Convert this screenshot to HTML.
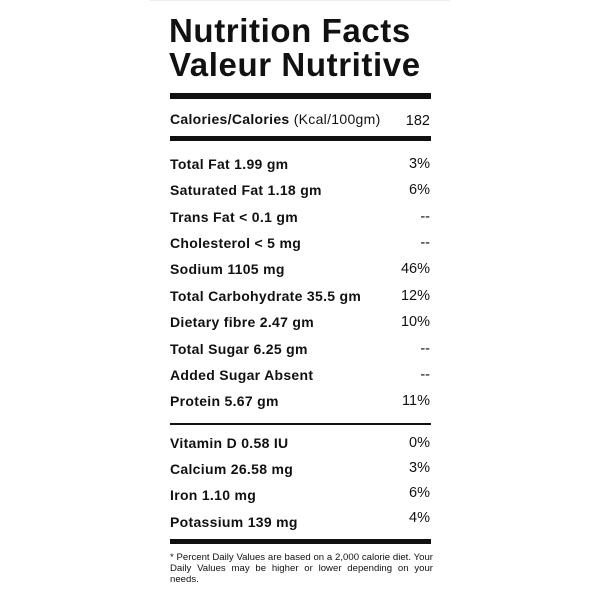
<!DOCTYPE html>
<html><head><style>
body{margin:0;width:600px;height:600px;background:#fff;position:relative;font-family:"Liberation Sans",sans-serif;color:#111;overflow:hidden}
.card{position:absolute;left:150px;top:0;width:300px;height:600px;border-top:1px solid #eee}
.t{position:absolute;left:169px;font-weight:bold;font-size:33px;line-height:34px;letter-spacing:0.6px}
.bar{position:absolute;left:170px;width:261px;background:#111}
.r{position:absolute;left:170px;width:260px;font-size:14px;font-weight:bold;line-height:16px;letter-spacing:0.3px}
.r span{position:absolute;right:0;top:0;font-weight:normal;font-size:14.5px;letter-spacing:0}
.f{position:absolute;left:170px;width:263px;font-size:9.6px;line-height:11px;text-align:justify;text-align-last:left}
.f1{display:block;text-align:justify;text-align-last:justify}
</style></head><body>
<div class="card"></div>
<div class="t" style="top:14px">Nutrition Facts</div>
<div class="t" style="top:48px">Valeur Nutritive</div>
<div class="bar" style="top:93px;height:6px"></div>
<div class="r" style="top:111px">Calories/Calories <b style="font-weight:normal">(Kcal/100gm)</b><span style="top:2px">182</span></div>
<div class="bar" style="top:136px;height:5px"></div>
<div class="r" style="top:156px">Total Fat 1.99 gm<span>3%</span></div>
<div class="r" style="top:182px">Saturated Fat 1.18 gm<span>6%</span></div>
<div class="r" style="top:209px">Trans Fat &lt; 0.1 gm<span>--</span></div>
<div class="r" style="top:235px">Cholesterol &lt; 5 mg<span>--</span></div>
<div class="r" style="top:261px">Sodium 1105 mg<span>46%</span></div>
<div class="r" style="top:288px">Total Carbohydrate 35.5 gm<span>12%</span></div>
<div class="r" style="top:314px">Dietary fibre 2.47 gm<span>10%</span></div>
<div class="r" style="top:341px">Total Sugar 6.25 gm<span>--</span></div>
<div class="r" style="top:367px">Added Sugar Absent<span>--</span></div>
<div class="r" style="top:393px">Protein 5.67 gm<span>11%</span></div>
<div class="bar" style="top:423px;height:2px"></div>
<div class="r" style="top:435px">Vitamin D 0.58 IU<span>0%</span></div>
<div class="r" style="top:461px">Calcium 26.58 mg<span style="top:-1px">3%</span></div>
<div class="r" style="top:487px">Iron 1.10 mg<span style="top:-2px">6%</span></div>
<div class="r" style="top:514px">Potassium 139 mg<span style="top:-4px">4%</span></div>
<div class="bar" style="top:539px;height:5px"></div>
<div class="f" style="top:552px"><span class="f1">* Percent Daily Values are based on a 2,000 calorie diet. Your</span><span class="f1">Daily Values may be higher or lower depending on your</span>needs.</div>
</body></html>
